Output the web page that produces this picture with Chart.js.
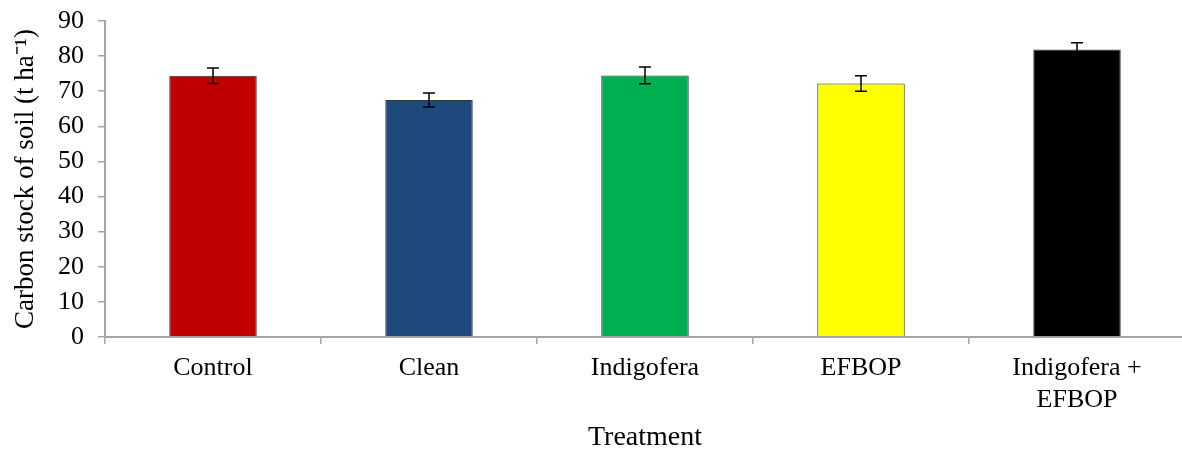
<!DOCTYPE html>
<html>
<head>
<meta charset="utf-8">
<script src="https://cdn.jsdelivr.net/npm/chart.js@4"></script>
<style>
  html, body { margin: 0; padding: 0; background: #fff; overflow: hidden; }
  #wrap { width: 1188px; height: 454px; }
</style>
</head>
<body>
<div id="wrap"><canvas id="myChart" width="1188" height="454"></canvas></div>
<script>
// data
var treatments = ['Control', 'Clean', 'Indigofera', 'EFBOP', ['Indigofera +', 'EFBOP']];
var carbon_stock = [74.4, 67.5, 74.5, 72.2, 81.9];
var std_error = [2.2, 2.0, 2.4, 2.2, 1.9];
var bar_colors = ['#C00000', '#1F497D', '#00B050', '#FFFF00', '#000000'];
var y_ticks = [0, 10, 20, 30, 40, 50, 60, 70, 80, 90];

var axisGray = '#a6a6a6';
var serif = "'Liberation Serif', 'Times New Roman', serif";

// error bars drawn on top of the bars
const errorBars = {
    id: 'errorBars',
    afterDatasetsDraw(chart) {
        const c = chart.ctx;
        const y = chart.scales.y;
        const meta = chart.getDatasetMeta(0);
        c.save();
        c.strokeStyle = '#000';
        c.lineWidth = 1.5;
        meta.data.forEach(function (bar, i) {
            var v = carbon_stock[i], e = std_error[i];
            var x = bar.x;
            var top = y.getPixelForValue(v + e);
            var bot = y.getPixelForValue(v - e);
            c.beginPath();
            c.moveTo(x, top); c.lineTo(x, bot);
            c.moveTo(x - 6, top); c.lineTo(x + 6, top);
            c.moveTo(x - 6, bot); c.lineTo(x + 6, bot);
            c.stroke();
        });
        c.restore();
    }
};

const ctx = document.getElementById('myChart').getContext('2d');
const myChart = new Chart(ctx, {
    type: 'bar',
    data: {
        labels: treatments,
        datasets: [{
            label: 'Carbon stock',
            data: carbon_stock,
            backgroundColor: bar_colors,
            borderColor: '#333333',
            borderWidth: 1,
            categoryPercentage: 1.0,
            barPercentage: 0.405
        }]
    },
    options: {
        responsive: false,
        animation: false,
        layout: { padding: { top: 21, right: 3, left: 0, bottom: 0 } },
        plugins: {
            legend: { display: false },
            tooltip: { enabled: false }
        },
        scales: {
            x: {
                grid: {
                    offset: true,
                    drawOnChartArea: false,
                    drawTicks: true,
                    tickLength: 7,
                    color: axisGray,
                    lineWidth: 1.5
                },
                border: { color: axisGray, width: 2 },
                ticks: {
                    color: '#000',
                    font: { family: serif, size: 26 },
                    padding: 9,
                    maxRotation: 0,
                    autoSkip: false
                },
                title: {
                    display: true,
                    text: 'Treatment',
                    color: '#000',
                    font: { family: serif, size: 28 },
                    padding: { top: 4, bottom: 0 }
                },
                afterFit: function (scale) { scale.height = 117; }
            },
            y: {
                min: 0,
                max: 90,
                afterBuildTicks: function (scale) {
                    scale.ticks = y_ticks.map(function (v) { return { value: v }; });
                },
                grid: {
                    drawOnChartArea: false,
                    drawTicks: true,
                    tickLength: 7,
                    color: axisGray,
                    lineWidth: 1.5
                },
                border: { color: axisGray, width: 2 },
                ticks: {
                    color: '#000',
                    font: { family: serif, size: 26 },
                    padding: 14,
                    autoSkip: false
                },
                title: {
                    display: true,
                    text: 'Carbon stock of soil (t ha\u207B\u00B9)',
                    color: '#000',
                    font: { family: serif, size: 27 },
                    padding: { top: 10, bottom: 4 }
                },
                afterFit: function (scale) {
                    scale.width = 105;
                    scale.paddingTop = 0;
                    scale.paddingBottom = 0;
                }
            }
        }
    },
    plugins: [errorBars]
});
</script>
</body>
</html>
